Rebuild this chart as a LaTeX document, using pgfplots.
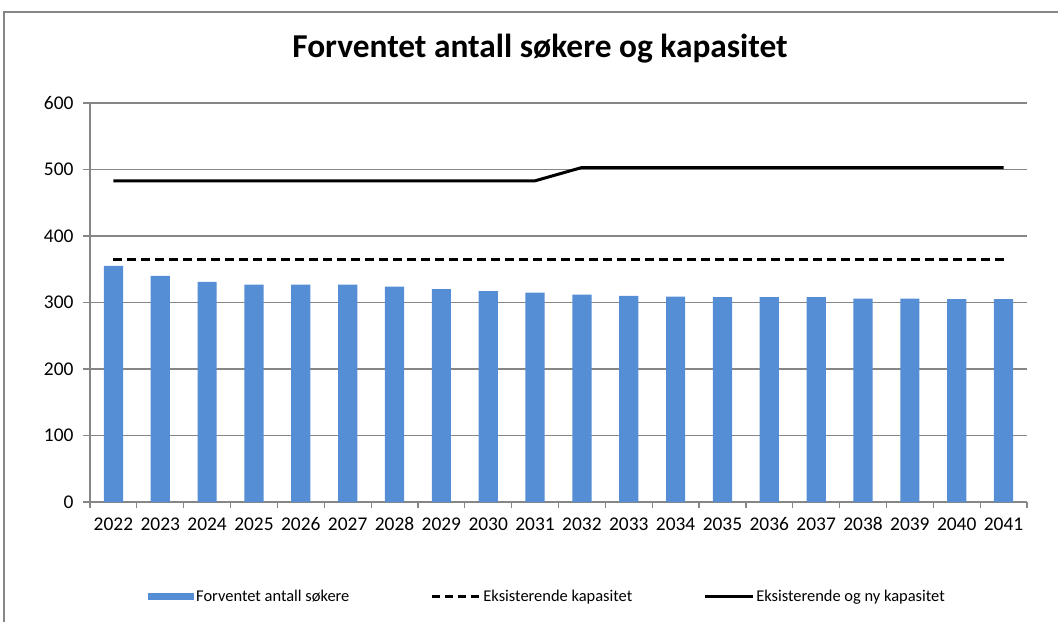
\documentclass[border=0pt]{standalone}
\usepackage{fontspec}
\setmainfont{Carlito}
\usepackage{pgfplots}
\usepackage{pgfplotstable}
\pgfplotsset{compat=1.18}
\definecolor{barblue}{RGB}{85,142,213}
\definecolor{gridgray}{RGB}{134,134,134}

\pgfplotstableread{
x sok eks ny
0 355 364 483
1 340 364 483
2 331 364 483
3 327 364 483
4 327 364 483
5 327 364 483
6 324 364 483
7 320 364 483
8 317 364 483
9 315 364 483
10 312 364 503
11 310 364 503
12 309 364 503
13 308 364 503
14 308 364 503
15 308 364 503
16 306 364 503
17 306 364 503
18 305 364 503
19 305 364 503
}\data

\begin{document}
\begin{tikzpicture}
\path[use as bounding box] (0,0) rectangle (1058bp,622bp);
\draw[gridgray, line width=1.2bp] (4bp,0) -- (4bp,610bp) -- (1058bp,610bp);
\node[font=\bfseries\fontsize{33.5}{38}\selectfont] at (540bp,573bp) {Forventet antall søkere og kapasitet};
\begin{axis}[
  at={(90bp,120bp)}, anchor=south west,
  width=937bp, height=399bp, scale only axis,
  xmin=-0.5, xmax=19.5, ymin=0, ymax=600,
  axis x line*=bottom, axis y line*=left,
  axis line style={gridgray, line width=1.2bp},
  xtick={0,...,19},
  xticklabels={2022,2023,2024,2025,2026,2027,2028,2029,2030,2031,2032,2033,2034,2035,2036,2037,2038,2039,2040,2041},
  major x tick style={draw=none},
  minor xtick={-0.5,0.5,...,19.5},
  minor x tick style={gridgray, line width=1.2bp},
  minor tick length=6bp,
  ytick={0,100,...,600},
  major tick length=7bp,
  tick align=outside,
  ymajorgrids, grid style={gridgray, line width=1.2bp},
  major y tick style={gridgray, line width=1.2bp},
  tick label style={font=\fontsize{19.5}{21}\selectfont},
  xticklabel style={anchor=north, text height=13bp, text depth=0bp, yshift=-5bp},
  yticklabel style={xshift=-6bp},
  /pgf/number format/assume math mode=true,
  clip=false,
  legend columns=3,
  legend style={at={(0.0619,-0.238)}, anchor=west, draw=none, fill=none,
    font=\fontsize{16.5}{18}\selectfont, inner sep=0pt,
    nodes={inner sep=2bp}},
]
\addplot[ybar, fill=barblue, draw=none, bar width=0.41,
  legend image code/.code={\fill[barblue] (0bp,-3.5bp) rectangle (46bp,3.5bp);}]
  table[x=x, y=sok] {\data};
\addlegendentry{Forventet antall søkere\makebox[79bp]{}}
\addplot[black, line width=3bp, dash pattern=on 9bp off 5bp,
  legend image code/.code={\draw[black, line width=3bp, dash pattern=on 8bp off 5bp] (0bp,0bp) -- (48bp,0bp);}]
  table[x=x, y=eks] {\data};
\addlegendentry{Eksisterende kapasitet\makebox[69bp]{}}
\addplot[black, line width=3bp,
  legend image code/.code={\draw[black, line width=3bp] (0bp,0bp) -- (48bp,0bp);}]
  table[x=x, y=ny] {\data};
\addlegendentry{Eksisterende og ny kapasitet}
\end{axis}
\end{tikzpicture}
\end{document}
